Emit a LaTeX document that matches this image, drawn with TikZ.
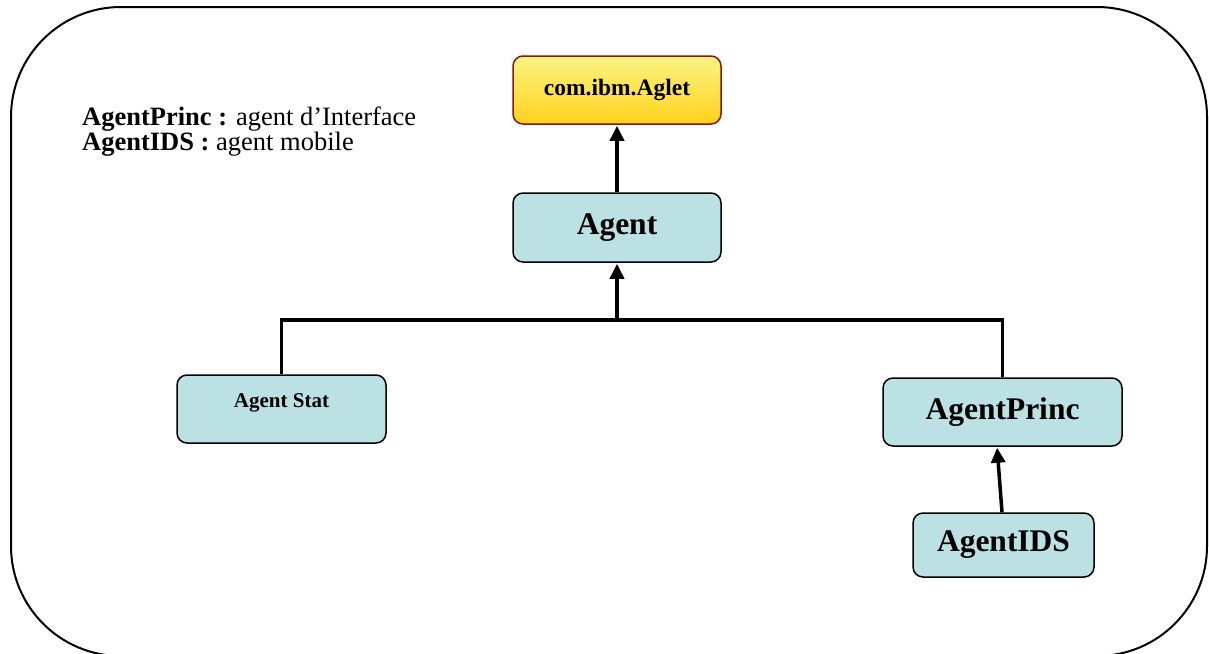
\documentclass[tikz,border=0pt]{standalone}
\usepackage{fontspec}
\setmainfont{Liberation Serif}
\usetikzlibrary{arrows.meta}
\definecolor{boxcyan}{HTML}{BCE1E4}
\definecolor{agtop}{HTML}{FAF482}
\definecolor{agbot}{HTML}{FFD21C}
\definecolor{agborder}{HTML}{8B1414}
\tikzset{
  cls/.style={draw=black, line width=1.5pt, fill=boxcyan, rounded corners=10pt, font=\bfseries},
  bigtxt/.style={font=\bfseries\fontsize{31.5}{31.5}\selectfont},
  conn/.style={line width=3.5pt},
  inh/.style={conn, -{Triangle[length=15pt,width=14pt]}, shorten >=1pt},
}
\begin{document}
\begin{tikzpicture}[x=1pt,y=-1pt]
\useasboundingbox (0,0) rectangle (1209,653);
\clip (0,0) rectangle (1209,653);
% outer frame
\draw[line width=2pt, rounded corners=110pt] (11,7) rectangle (1207,656);
% legend
\node[anchor=base west, align=left, inner sep=0pt, font=\fontsize{26.5}{25}\selectfont] (legend) at (82,150)
  {\textbf{AgentPrinc :} agent d'Interface\\ \textbf{AgentIDS :} agent mobile};
% nodes
\node[draw=agborder, line width=1.5pt, rounded corners=10pt, top color=agtop, bottom color=agbot,
      minimum width=208pt, minimum height=68pt, font=\bfseries\fontsize{23.5}{23.5}\selectfont] (aglet) at (617,90) {com.ibm.Aglet};
\node[cls, bigtxt, minimum width=208pt, minimum height=69pt] (agent) at (617,227.5) {Agent};
\node[cls, font=\bfseries\fontsize{21}{21}\selectfont, minimum width=209pt, minimum height=68pt, text depth=16pt] (stat) at (281.5,409) {Agent Stat};
\node[cls, bigtxt, minimum width=239pt, minimum height=68pt] (princ) at (1002.5,412) {AgentPrinc};
\node[cls, bigtxt, minimum width=181pt, minimum height=64pt] (ids) at (1003.5,545) {AgentIDS};
% connectors
\coordinate (bus) at (617,320);
\draw[inh] (agent.north) -- (aglet.south);
\draw[conn] (stat.north) |- (bus) -| (princ.north);
\draw[inh] (bus) -- (agent.south);
\draw[inh] ([xshift=-1.5pt]ids.north) -- ([xshift=-5.5pt]princ.south);
\end{tikzpicture}
\end{document}
